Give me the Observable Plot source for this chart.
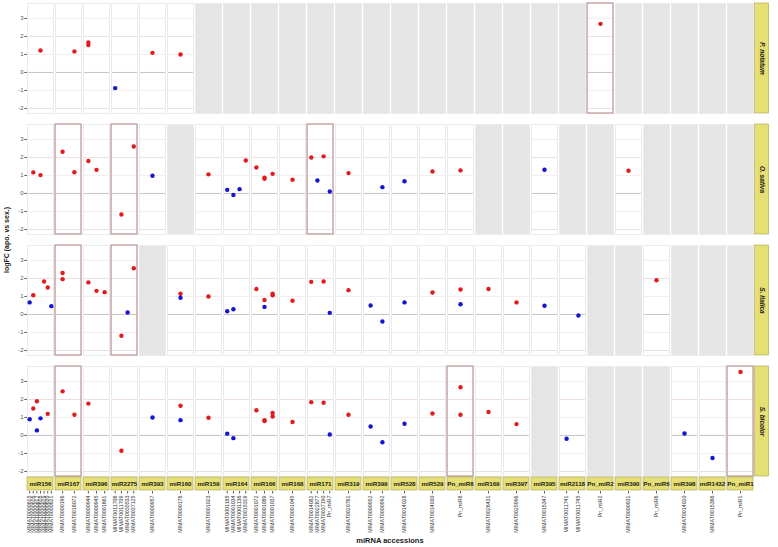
<!DOCTYPE html>
<html><head><meta charset="utf-8">
<script src="https://cdn.jsdelivr.net/npm/d3@7"></script>
<script src="https://cdn.jsdelivr.net/npm/@observablehq/plot@0.6"></script>
<style>body{margin:0;background:#fff;font-family:"Liberation Sans",Arial,sans-serif}</style>
</head><body><div id="chart"></div>
<script>
const families = ["miR156","miR167","miR396","miR2275","miR393","miR160","miR159","miR164","miR166","miR168","miR171","miR319","miR399","miR528","miR529","Pn_miR8","miR169","miR397","miR395","miR2118","Pn_miR2","miR390","Pn_miR6","miR398","miR1432","Pn_miR1"];
const species = ["P. notatum","O. sativa","S. italica","S. bicolor"];
const accessions = [
  ["miR156","MIMAT0000615"],["miR156","MIMAT0000616"],["miR156","MIMAT0000617"],["miR156","MIMAT0000618"],["miR156","MIMAT0000619"],["miR156","MIMAT0000620"],["miR156","MIMAT0000621"],
  ["miR167","MIMAT0000196"],["miR167","MIMAT0018072"],
  ["miR396","MIMAT0000944"],["miR396","MIMAT0000945"],["miR396","MIMAT0001661"],
  ["miR2275","MIMAT0011708"],["miR2275","MIMAT0011709"],["miR2275","MIMAT0035533"],["miR2275","MIMAT0037125"],
  ["miR393","MIMAT0000957"],["miR160","MIMAT0000178"],["miR159","MIMAT0001023"],
  ["miR164","MIMAT0001185"],["miR164","MIMAT0001034"],["miR164","MIMAT0001136"],["miR164","MIMAT0015319"],
  ["miR166","MIMAT0001072"],["miR166","MIMAT0001089"],["miR166","MIMAT0001037"],
  ["miR168","MIMAT0001045"],
  ["miR171","MIMAT0014082"],["miR171","MIMAT0022877"],["miR171","MIMAT0037190"],["miR171","Pn_miR7"],
  ["miR319","MIMAT0020761"],["miR399","MIMAT0000952"],["miR399","MIMAT0000992"],
  ["miR528","MIMAT0014028"],["miR529","MIMAT0014030"],["Pn_miR8","Pn_miR8"],["miR169","MIMAT0026431"],
  ["miR397","MIMAT0025996"],["miR395","MIMAT0015347"],["miR2118","MIMAT0011741"],["miR2118","MIMAT0011745"],
  ["Pn_miR2","Pn_miR2"],["miR390","MIMAT0000931"],["Pn_miR6","Pn_miR6"],["miR398","MIMAT0014020"],
  ["miR1432","MIMAT0015366"],["Pn_miR1","Pn_miR1"]
];
// [family, accession index within family, logFC, colour class]
const notatumPoints = [["miR156",4,1.22,"r"],["miR167",2,1.17,"r"],["miR396",1,1.67,"r"],["miR396",1,1.52,"r"],["miR2275",1,-0.87,"b"],["miR393",1,1.09,"r"],["miR160",1,1.0,"r"],["Pn_miR2",1,2.7,"r"]];
const sativaPoints = [["miR156",2,1.17,"r"],["miR156",4,1.02,"r"],["miR167",1,2.32,"r"],["miR167",2,1.18,"r"],["miR396",1,1.8,"r"],["miR396",2,1.31,"r"],["miR2275",2,-1.17,"r"],["miR2275",4,2.61,"r"],["miR393",1,0.98,"b"],["miR159",1,1.06,"r"],["miR164",1,0.2,"b"],["miR164",2,-0.09,"b"],["miR164",3,0.24,"b"],["miR164",4,1.83,"r"],["miR166",1,1.44,"r"],["miR166",2,0.82,"r"],["miR166",2,0.88,"r"],["miR166",3,1.09,"r"],["miR168",1,0.76,"r"],["miR171",1,2.0,"r"],["miR171",2,0.72,"b"],["miR171",3,2.06,"r"],["miR171",4,0.11,"b"],["miR319",1,1.13,"r"],["miR399",2,0.35,"b"],["miR528",1,0.68,"b"],["miR529",1,1.22,"r"],["Pn_miR8",1,1.28,"r"],["miR395",1,1.32,"b"],["miR390",1,1.26,"r"]];
const italicaPoints = [["miR156",1,0.67,"b"],["miR156",2,1.07,"r"],["miR156",5,1.83,"r"],["miR156",6,1.5,"r"],["miR156",7,0.46,"b"],["miR167",1,2.3,"r"],["miR167",1,1.96,"r"],["miR396",1,1.78,"r"],["miR396",2,1.31,"r"],["miR396",3,1.24,"r"],["miR2275",2,-1.18,"r"],["miR2275",3,0.11,"b"],["miR2275",4,2.57,"r"],["miR160",1,1.15,"r"],["miR160",1,0.93,"b"],["miR159",1,1.0,"r"],["miR164",1,0.18,"b"],["miR164",2,0.29,"b"],["miR166",1,1.41,"r"],["miR166",2,0.8,"r"],["miR166",2,0.42,"b"],["miR166",3,1.15,"r"],["miR166",3,1.07,"r"],["miR168",1,0.76,"r"],["miR171",1,1.81,"r"],["miR171",3,1.83,"r"],["miR171",4,0.09,"b"],["miR319",1,1.35,"r"],["miR399",1,0.5,"b"],["miR399",2,-0.39,"b"],["miR528",1,0.67,"b"],["miR529",1,1.22,"r"],["Pn_miR8",1,1.39,"r"],["Pn_miR8",1,0.57,"b"],["miR169",1,1.41,"r"],["miR397",1,0.67,"r"],["miR395",1,0.48,"b"],["miR2118",2,-0.06,"b"],["Pn_miR6",1,1.9,"r"]];
const bicolorPoints = [["miR156",1,0.9,"b"],["miR156",2,1.5,"r"],["miR156",3,1.9,"r"],["miR156",3,0.28,"b"],["miR156",4,0.95,"b"],["miR156",6,1.2,"r"],["miR167",1,2.45,"r"],["miR167",2,1.15,"r"],["miR396",1,1.77,"r"],["miR2275",2,-0.85,"r"],["miR393",1,1.0,"b"],["miR160",1,1.65,"r"],["miR160",1,0.85,"b"],["miR159",1,0.98,"r"],["miR164",1,0.1,"b"],["miR164",2,-0.15,"b"],["miR166",1,1.4,"r"],["miR166",2,0.85,"r"],["miR166",2,0.8,"r"],["miR166",3,1.25,"r"],["miR166",3,1.05,"r"],["miR168",1,0.75,"r"],["miR171",1,1.85,"r"],["miR171",3,1.82,"r"],["miR171",4,0.05,"b"],["miR319",1,1.15,"r"],["miR399",1,0.5,"b"],["miR399",2,-0.38,"b"],["miR528",1,0.65,"b"],["miR529",1,1.22,"r"],["Pn_miR8",1,2.68,"r"],["Pn_miR8",1,1.15,"r"],["miR169",1,1.3,"r"],["miR397",1,0.63,"r"],["miR2118",1,-0.18,"b"],["miR398",1,0.11,"b"],["miR1432",1,-1.25,"b"],["Pn_miR1",1,3.53,"r"]];
const highlighted = [["P. notatum","Pn_miR2"],["O. sativa","miR167"],["O. sativa","miR2275"],["O. sativa","miR171"],["S. italica","miR167"],["S. italica","miR2275"],["S. bicolor","miR167"],["S. bicolor","Pn_miR8"],["S. bicolor","Pn_miR1"]];
const yTicks = [-2,-1,0,1,2,3];

// ---- derived tables ----
const accCount = d3.rollup(accessions, v => v.length, d => d[0]);
const posOf = (family, idx) => (idx - 0.4) / (accCount.get(family) + 0.2);
const accRows = families.flatMap(f => accessions.filter(a => a[0] === f).map((a, i) => ({family: f, species: "S. bicolor", name: a[1], pos: posOf(f, i + 1)})));
const points = [[species[0], notatumPoints],[species[1], sativaPoints],[species[2], italicaPoints],[species[3], bicolorPoints]]
  .flatMap(([sp, arr]) => arr.map(([family, idx, value, cls]) => ({species: sp, family, pos: posOf(family, idx), value, cls})));
const panels = species.flatMap(sp => families.map(f => ({species: sp, family: f, empty: !points.some(p => p.species === sp && p.family === f)})));
const hiRows = highlighted.map(([species, family]) => ({species, family}));
const stripRows = families.map(f => ({family: f, species: "S. bicolor"}));
const speciesRows = species.map(sp => ({species: sp, family: families[families.length - 1]}));
const yTickRows = species.flatMap(sp => yTicks.map(v => ({species: sp, family: families[0], v})));

const Y0 = -2.28, Y1 = 3.83;
const U = (Y1 - Y0) / 110;   // y units per pixel
const XU = 1 / 26.6;          // x units per pixel
const yellow = "#e6df74", yellowStroke = "#a8a35c";
const F = {fx: "family", fy: "species"};

const chart = Plot.plot({
  width: 778, height: 547,
  marginLeft: 23, marginRight: 21, marginTop: 3, marginBottom: 71,
  style: {fontFamily: "'Liberation Sans', Arial, sans-serif", background: "white"},
  x: {domain: [0, 1], axis: null},
  y: {domain: [Y0, Y1], axis: null},
  fx: {domain: families, padding: 0.06, axis: null},
  fy: {domain: species, padding: 0.091, axis: null},
  color: {domain: ["r", "b"], range: ["#e3191c", "#1414d2"]},
  marks: [
    Plot.rect(panels, {...F, x1: 0, x2: 1, y1: Y0, y2: Y1, fill: "white"}),
    Plot.ruleY([-1, 1, 3], {stroke: "#f3efef"}),
    Plot.ruleY([-2, 2], {stroke: "#ebdfdf"}),
    Plot.ruleY([0], {stroke: "#c4c4c4"}),
    Plot.rect(panels.filter(d => d.empty), {...F, x1: 0, x2: 1, y1: Y0, y2: Y1, fill: "#e5e5e5"}),
    Plot.frame({stroke: "#ebebeb"}),
    Plot.rect(hiRows, {...F, x1: 0, x2: 1, y1: Y0, y2: Y1, fill: "none", stroke: "#bf9696", strokeWidth: 1.2}),
    Plot.dot(points, {...F, x: "pos", y: "value", fill: "cls", r: 2.2}),
    // y axis
    Plot.ruleY(yTickRows, {...F, y: "v", x1: -2.8 * XU, x2: 0, stroke: "#333", strokeWidth: 0.8}),
    Plot.text(yTickRows, {...F, y: "v", x: 0, dx: -4, text: d => String(d.v), textAnchor: "end", fontSize: 6, fill: "#555"}),
    // species strips (right)
    Plot.rect(speciesRows, {...F, x1: 1 + 1.6 * XU, x2: 1 + 16 * XU, y1: Y0, y2: Y1, fill: yellow, stroke: yellowStroke, strokeWidth: 0.6}),
    Plot.text(speciesRows, {...F, x: 1 + 8.8 * XU, y: (Y0 + Y1) / 2, text: "species", rotate: 90, fontSize: 6.5, fontWeight: "bold", fontStyle: "italic", fill: "#1a1a1a"}),
    // family strips (bottom)
    Plot.rect(stripRows, {...F, x1: 0, x2: 1, y1: Y0 - 1 * U, y2: Y0 - 14 * U, fill: yellow, stroke: yellowStroke, strokeWidth: 0.6}),
    Plot.text(stripRows, {...F, x: 0.5, y: Y0 - 7.5 * U, text: "family", fontSize: 6.2, fontWeight: "bold", fill: "#1a1a1a"}),
    // accession ticks and labels
    Plot.ruleX(accRows, {...F, x: "pos", y1: Y0 - 15 * U, y2: Y0 - 17.5 * U, stroke: "#333", strokeWidth: 0.8}),
    Plot.text(accRows, {...F, x: "pos", y: Y0 - 19 * U, text: "name", rotate: -90, textAnchor: "end", fontSize: 5.3, fill: "#333"})
  ]
});

const svg = d3.select(chart);
svg.append("text").attr("x", 390).attr("y", 543).attr("text-anchor", "middle")
  .attr("font-size", 7.5).attr("font-weight", "bold").attr("fill", "#1a1a1a").text("miRNA accessions");
svg.append("text").attr("transform", "translate(9,240) rotate(-90)").attr("text-anchor", "middle")
  .attr("font-size", 7).attr("font-weight", "bold").attr("fill", "#1a1a1a").text("logFC (apo. vs sex.)");
document.getElementById("chart").appendChild(chart);
</script></body></html>
